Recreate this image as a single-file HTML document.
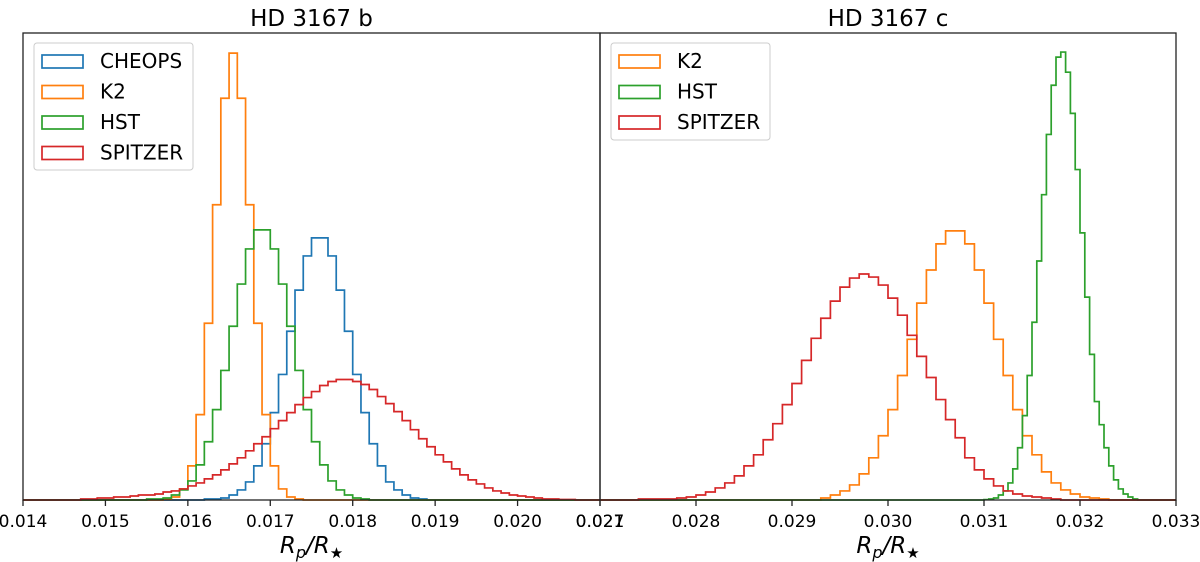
<!DOCTYPE html>
<html><head><meta charset="utf-8"><style>
body{margin:0;background:#fff;}
svg{display:block;font-family:"DejaVu Sans","Liberation Sans",sans-serif;}
</style></head><body>
<svg id="chart" width="1200" height="562" viewBox="0 0 1200 562">
<g id="plot"></g>
</svg>
<script>
// ---- data (bin counts, arbitrary units) ----
const leftTicks=["0.014","0.015","0.016","0.017","0.018","0.019","0.020","0.021"];
const rightTicks=["0.027","0.028","0.029","0.030","0.031","0.032","0.033"];
// left panel (bin width 0.0001)
const cheopsStart=0.0162;
const cheopsVals=[1,1,2,5,10,18,34,56,87,125,168,209,243,261,261,243,209,168,125,87,56,34,18,10,5,2,1];
const k2bStart=0.0157;
const k2bVals=[1,3,11,34,85,176,294,400,445,400,294,176,85,34,11,3,1];
const hstbStart=0.0155;
const hstbVals=[1,1,2,5,10,19,35,58,90,129,173,215,250,269,269,250,215,173,129,90,58,35,19,10,5,2,1];
const spzbStart=0.0147;
const spzbVals=[1,1,2,2,3,3,4,5,5,6,8,9,11,14,17,21,25,30,36,42,49,56,63,71,79,87,95,102,108,114,118,120,120,118,115,110,103,96,88,79,70,61,53,45,38,31,25,20,16,12,9,7,5,4,3,2,1,1,0.5,0.5];
// right panel
const k2cStart=0.0293; // width 0.0001
const k2cVals=[2,5,9,15,26,42,64,90,124,160,196,229,255,268,268,255,229,196,160,124,90,64,45,28,17,10,6,3,2,1];
const hstcStart=0.0310; // width 0.00005
const hstcVals=[0.4,1,2,5,9,17,31,52,84,124,177,238,304,364,413,441,446,426,385,329,266,202,145,98,75,52,34,20,11,6,3,1];
const spzcStart=0.0274; // width 0.0001
const spzcVals=[1,1,1,1,2,3,5,8,12,17,24,34,45,60,76,95,116,139,161,181,198,212,221,225,222,214,201,184,164,143,122,100,80,62,42,30,21,14,9,6,4,3,2,1];

const NS="http://www.w3.org/2000/svg";
const g=document.getElementById('plot');
function el(t,a,p){const e=document.createElementNS(NS,t);for(const k in a)e.setAttribute(k,a[k]);(p||g).appendChild(e);return e;}
const Y0=500, YTOP=33, YMAX=465;
const yS=v=>Y0-v/YMAX*(Y0-YTOP);
const C={blue:"#1f77b4",orange:"#ff7f0e",green:"#2ca02c",red:"#d62728"};

function panel(name,x0,x1,vmin,vmax,ticks,title,series,legend,legW,legH){
  const xS=v=>x0+(v-vmin)/(vmax-vmin)*(x1-x0);
  const grp=el('g',{});
  
  
  series.forEach(s=>{
    let pts=[[xS(vmin),Y0],[xS(s.start),Y0]];
    s.vals.forEach((v,i)=>{const a=xS(s.start+i*s.w),b=xS(s.start+(i+1)*s.w);pts.push([a,yS(v)],[b,yS(v)]);});
    pts.push([xS(s.start+s.vals.length*s.w),Y0],[xS(vmax),Y0]);
    const p=el('polyline',{points:pts.map(q=>q[0].toFixed(2)+','+q[1].toFixed(2)).join(' '),fill:'none',stroke:s.c,'stroke-width':1.7},grp);
    
    
  });
  const fr=el('rect',{x:x0,y:YTOP,width:x1-x0,height:Y0-YTOP,fill:'none',stroke:'#222','stroke-width':1.3},grp);
  
  
  ticks.forEach((t,i)=>{
    const x=x0+i*(x1-x0)/(ticks.length-1);
    el('line',{x1:x,x2:x,y1:Y0,y2:Y0+6,stroke:'#222','stroke-width':1.3},grp);
    const tx=el('text',{x:x,y:Y0+27,'font-size':17,'text-anchor':'middle'},grp);
    tx.textContent=t;
    
    
  });
  const tt=el('text',{x:(x0+x1)/2,y:26,'font-size':23,'text-anchor':'middle'},grp);
  tt.textContent=title;
  
  
  const xl=el('text',{x:(x0+x1)/2,y:553,'font-size':23,'text-anchor':'middle','font-style':'italic'},grp);
  xl.innerHTML='R<tspan font-size="16" dy="5">p</tspan><tspan dy="-5">/R</tspan><tspan font-size="15" dy="5" font-style="normal">★</tspan>';
  
  
  const lg=el('g',{},grp);
  
  
  el('rect',{x:x0+11,y:43,width:legW,height:legH,rx:3,fill:'#fff','fill-opacity':0.8,stroke:'#ccc'},lg);
  legend.forEach((s,i)=>{
    const y=61+i*30.5;
    el('rect',{x:x0+19,y:y-6,width:41,height:13,fill:'none',stroke:s.c,'stroke-width':1.7},lg);
    const t=el('text',{x:x0+77,y:y+7,'font-size':20},lg);
    t.textContent=s.n.toUpperCase();
    
    
  });
}
const leftSeries=[
 {n:'cheops',c:C.blue,start:cheopsStart,w:0.0001,vals:cheopsVals},
 {n:'k2',c:C.orange,start:k2bStart,w:0.0001,vals:k2bVals},
 {n:'hst',c:C.green,start:hstbStart,w:0.0001,vals:hstbVals},
 {n:'spitzer',c:C.red,start:spzbStart,w:0.0001,vals:spzbVals}];
const rightSeries=[
 {n:'k2',c:C.orange,start:k2cStart,w:0.0001,vals:k2cVals},
 {n:'hst',c:C.green,start:hstcStart,w:0.00005,vals:hstcVals},
 {n:'spitzer',c:C.red,start:spzcStart,w:0.0001,vals:spzcVals}];
panel('panel-hd3167b',23,600,0.014,0.021,leftTicks,'HD 3167 b',leftSeries,leftSeries,159,127);
panel('panel-hd3167c',600,1176,0.027,0.033,rightTicks,'HD 3167 c',rightSeries,rightSeries,159,97);
</script>
</body></html>
